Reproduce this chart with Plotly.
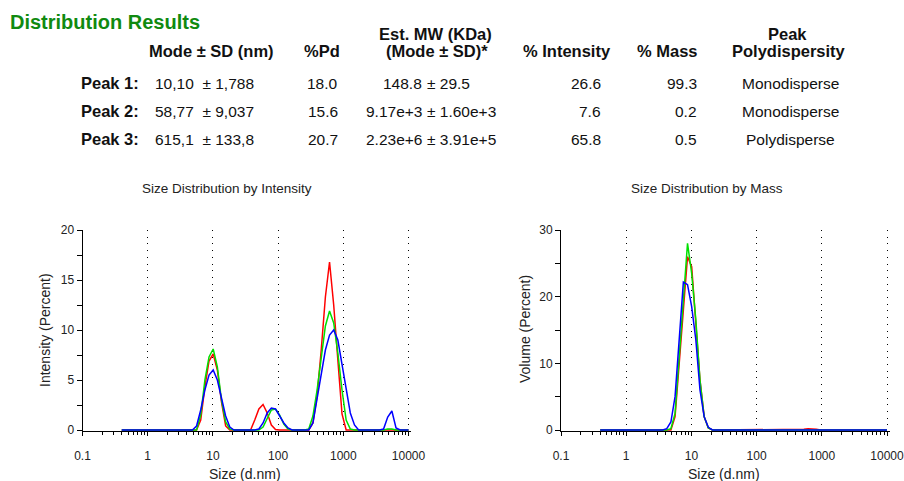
import plotly.graph_objects as go

# ---------------- data ----------------
sizes = [0.4000, 0.4632, 0.5365, 0.6213, 0.7195, 0.8332, 0.9649, 1.117, 1.294, 1.499,
         1.736, 2.010, 2.328, 2.696, 3.122, 3.615, 4.187, 4.849, 5.615, 6.503,
         7.531, 8.721, 10.10, 11.70, 13.54, 15.69, 18.17, 21.04, 24.36, 28.21,
         32.67, 37.84, 43.82, 50.75, 58.77, 68.06, 78.82, 91.28, 105.7, 122.4,
         141.8, 164.2, 190.1, 220.2, 255.0, 295.3, 342.0, 396.1, 458.7, 531.2,
         615.1, 712.4, 825.0, 955.4, 1106, 1281, 1484, 1718, 1990, 2305,
         2669, 3091, 3580, 4145, 4801, 5560, 6439, 7456, 8635, 10000]

# Intensity (%) per size bin
int_red = [0, 0, 0, 0, 0, 0, 0, 0, 0, 0,
           0, 0, 0, 0, 0, 0, 0, 0, 0, 1.0,
           4.3, 6.9, 7.6, 6.0, 2.8, 0.4, 0, 0, 0, 0,
           0, 0, 1.0, 2.1, 2.55, 1.7, 0.5, 0.05, 0, 0,
           0, 0, 0, 0, 0, 0, 0.7, 3.4, 8.0, 13.3,
           16.8, 12.5, 7.0, 1.6, 0, 0, 0, 0, 0, 0,
           0, 0, 0, 0, 0, 0, 0, 0, 0, 0]
int_green = [0, 0, 0, 0, 0, 0, 0, 0, 0, 0,
             0, 0, 0, 0, 0, 0, 0, 0, 0, 1.5,
             5.0, 7.3, 8.1, 6.3, 3.0, 0.8, 0.1, 0, 0, 0,
             0, 0, 0, 0, 0.3, 1.2, 2.0, 2.1, 1.5, 0.6,
             0.1, 0, 0, 0, 0, 0.1, 1.4, 4.0, 7.3, 10.4,
             11.9, 10.7, 7.7, 4.0, 1.0, 0.1, 0, 0, 0, 0,
             0, 0, 0, 0, 0.1, 0.1, 0, 0, 0, 0]
int_blue = [0, 0, 0, 0, 0, 0, 0, 0, 0, 0,
            0, 0, 0, 0, 0, 0, 0, 0, 0.4, 2.0,
            4.0, 5.5, 6.0, 5.0, 3.2, 1.4, 0.3, 0, 0, 0,
            0, 0, 0, 0.1, 0.7, 1.7, 2.2, 2.1, 1.4, 0.7,
            0.2, 0, 0, 0, 0, 0, 0.7, 3.0, 5.4, 8.0,
            9.5, 10.0, 9.0, 6.7, 4.0, 1.7, 0.5, 0, 0, 0,
            0, 0, 0, 0.1, 1.3, 1.9, 0.2, 0, 0, 0]

# Volume (%) per size bin
mass_red = [0, 0, 0, 0, 0, 0, 0, 0, 0, 0,
            0, 0, 0, 0, 0, 0, 0, 0, 2.0, 10.0,
            19.0, 26.0, 24.5, 16.5, 7.5, 2.0, 0.3, 0, 0, 0,
            0, 0, 0, 0, 0, 0, 0, 0, 0, 0,
            0, 0, 0, 0, 0, 0, 0, 0, 0, 0.1,
            0.2, 0.2, 0.1, 0, 0, 0, 0, 0, 0, 0,
            0, 0, 0, 0, 0, 0, 0, 0, 0, 0]
mass_green = [0, 0, 0, 0, 0, 0, 0, 0, 0, 0,
              0, 0, 0, 0, 0, 0, 0, 0.2, 2.5, 11.0,
              20.0, 28.0, 23.5, 16.5, 7.5, 2.0, 0.3, 0, 0, 0,
              0, 0, 0, 0, 0, 0, 0, 0, 0, 0,
              0, 0, 0, 0, 0, 0, 0, 0, 0, 0,
              0, 0.1, 0.1, 0.05, 0, 0, 0, 0, 0, 0,
              0, 0, 0, 0, 0, 0, 0, 0, 0, 0]
mass_blue = [0, 0, 0, 0, 0, 0, 0, 0, 0, 0,
             0, 0, 0, 0, 0, 0, 0.2, 1.2, 5.0, 13.0,
             22.2, 21.8, 18.5, 13.5, 6.0, 2.0, 0.4, 0, 0, 0,
             0, 0, 0, 0, 0, 0, 0, 0, 0, 0,
             0, 0, 0, 0, 0, 0, 0, 0, 0, 0,
             0, 0, 0, 0, 0, 0, 0, 0, 0, 0,
             0, 0, 0, 0, 0, 0, 0, 0, 0, 0]

x_tickvals = [0.1, 1, 10, 100, 1000, 10000]
x_ticktext = ["0.1", "1", "10", "100", "1000", "10000"]

# table
peak_labels = ["Peak 1:", "Peak 2:", "Peak 3:"]
mode_sd = ["10,10\u00a0\u00a0± 1,788", "58,77\u00a0\u00a0± 9,037", "615,1\u00a0\u00a0± 133,8"]
pd_vals = ["18.0", "15.6", "20.7"]
mw_mode = ["148.8", "9.17e+3", "2.23e+6"]
mw_sd = ["± 29.5", "± 1.60e+3", "± 3.91e+5"]
pct_int = ["26.6", "7.6", "65.8"]
pct_mass = ["99.3", "0.2", "0.5"]
polydisp = ["Monodisperse", "Monodisperse", "Polydisperse"]

# ---------------- figure ----------------
W, H = 904, 481
FONT = "Liberation Sans, Arial, sans-serif"
colors = ["#ff0000", "#00e000", "#0000ff"]
XMAX = 4.04  # log10 upper range (a hair past 10000 so its gridline is drawn)

def px(x):
    return x / W

def py(y):
    return 1 - y / H

fig = go.Figure()
for ys, c in zip([int_red, int_green, int_blue], colors):
    fig.add_trace(go.Scatter(x=sizes, y=ys, mode="lines", line=dict(color=c, width=1.5),
                             xaxis="x", yaxis="y", showlegend=False, hoverinfo="skip"))
for ys, c in zip([mass_red, mass_green, mass_blue], colors):
    fig.add_trace(go.Scatter(x=sizes, y=ys, mode="lines", line=dict(color=c, width=1.5),
                             xaxis="x2", yaxis="y2", showlegend=False, hoverinfo="skip"))

minor_x = [m * 10.0 ** e for e in range(-1, 4) for m in range(2, 10)]

def xaxis_cfg(p01, p10000, anchor):
    dec = (p10000 - p01) / 5.0
    return dict(type="log", range=[-1, XMAX], domain=[px(p01), px(p01 + dec * (XMAX + 1))],
                anchor=anchor, automargin=False, ticklabeloverflow="allow",
                showline=True, linecolor="black", linewidth=1,
                tickmode="array", tickvals=x_tickvals, ticktext=x_ticktext,
                ticks="outside", ticklen=4, tickcolor="black", tickwidth=1,
                tickfont=dict(family=FONT, size=12, color="#222"),
                ticklabelstandoff=10,
                showgrid=True, gridcolor="#000", gridwidth=1, griddash="1px,5.7px",
                minor=dict(tickmode="array", tickvals=minor_x, ticks="outside", ticklen=3,
                           tickcolor="black", tickwidth=1, showgrid=False),
                zeroline=False, layer="below traces", fixedrange=True)

def yaxis_cfg(top, minor_d, major_vals, anchor):
    return dict(range=[-top / 200.0, top], domain=[py(431), py(230)], anchor=anchor,
                automargin=False,
                showline=True, linecolor="black", linewidth=1,
                tickmode="array", tickvals=major_vals,
                ticks="outside", ticklen=5, tickcolor="black", tickwidth=1,
                tickfont=dict(family=FONT, size=12, color="#222"),
                showgrid=False, zeroline=False,
                minor=dict(tickmode="linear", tick0=0, dtick=minor_d, ticks="outside",
                           ticklen=5, tickcolor="black", tickwidth=1, showgrid=False),
                layer="below traces", fixedrange=True)

fig.update_layout(
    width=W, height=H, margin=dict(l=0, r=0, t=0, b=0, autoexpand=False),
    paper_bgcolor="white", plot_bgcolor="white",
    xaxis=xaxis_cfg(82.5, 408.5, "y"),
    yaxis=yaxis_cfg(20, 2.5, [0, 5, 10, 15, 20], "x"),
    xaxis2=xaxis_cfg(561, 887, "y2"),
    yaxis2=yaxis_cfg(30, 5, [0, 10, 20, 30], "x2"),
)

ann = []

def text(x, y, s, size=15.5, bold=False, anchor="center", color="#111", angle=0):
    ann.append(dict(x=px(x), y=py(y), xref="paper", yref="paper", showarrow=False,
                    text=("<b>%s</b>" % s) if bold else s, xanchor=anchor, yanchor="middle",
                    textangle=angle,
                    font=dict(family=FONT, size=size, color=color)))

# chart titles and axis titles
text(226.5, 188, "Size Distribution by Intensity", size=13.5, color="#222")
text(706.5, 189, "Size Distribution by Mass", size=13.5, color="#222")
text(245, 474, "Size (d.nm)", size=14, color="#222")
text(724, 474, "Size (d.nm)", size=14, color="#222")
text(45, 330, "Intensity (Percent)", size=14, color="#222", angle=-90)
text(525, 329, "Volume (Percent)", size=14, color="#222", angle=-90)

# table
text(8, 22, "Distribution Results", size=20, bold=True, anchor="left", color="#108a10")
HB = 16.5
text(211, 51, "Mode ± SD (nm)", size=HB, bold=True)
text(322, 51, "%Pd", size=HB, bold=True)
text(435, 34, "Est. MW (KDa)", size=HB, bold=True)
text(437, 51, "(Mode ± SD)*", size=HB, bold=True)
text(567, 51, "% Intensity", size=HB, bold=True)
text(667, 51, "% Mass", size=HB, bold=True)
text(787, 34, "Peak", size=HB, bold=True)
text(789, 51, "Polydispersity", size=HB, bold=True)

row_y = [83, 111, 139]
for i, yy in enumerate(row_y):
    text(141, yy, peak_labels[i], size=HB, bold=True, anchor="right")
    text(153, yy, mode_sd[i], anchor="left")
    text(340, yy, pd_vals[i], anchor="right")
    text(424, yy, mw_mode[i], anchor="right")
    text(425, yy, mw_sd[i], anchor="left")
    text(603, yy, pct_int[i], anchor="right")
    text(699, yy, pct_mass[i], anchor="right")
    text(790, yy, polydisp[i])

fig.update_layout(annotations=ann)
fig.write_html("out.html")
